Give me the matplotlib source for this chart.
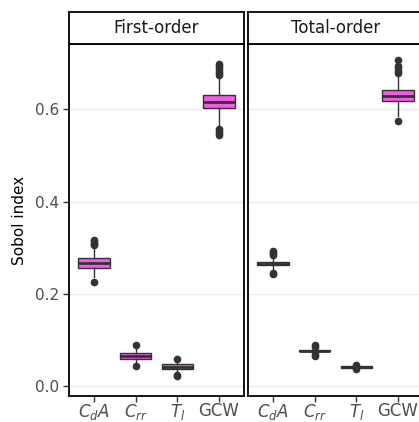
import matplotlib
matplotlib.use("Agg")
import matplotlib.pyplot as plt

# Categories and per-panel box summaries (Sobol indices)
categories = [r"$C_dA$", r"$C_{rr}$", r"$T_l$", "GCW"]
panels = ["First-order", "Total-order"]

first_q1 = [0.256, 0.059, 0.036, 0.604]
first_med = [0.266, 0.065, 0.041, 0.617]
first_q3 = [0.277, 0.071, 0.047, 0.632]
first_lo = [0.236, 0.048, 0.027, 0.566]
first_hi = [0.300, 0.083, 0.054, 0.668]
first_fliers = [
    [0.225, 0.305, 0.308, 0.311, 0.314, 0.316],
    [0.043, 0.088],
    [0.022, 0.024, 0.058],
    [0.545, 0.549, 0.553, 0.557, 0.674, 0.679, 0.684, 0.689, 0.694, 0.699],
]

total_q1 = [0.262, 0.075, 0.039, 0.619]
total_med = [0.265, 0.077, 0.041, 0.630]
total_q3 = [0.268, 0.079, 0.043, 0.642]
total_lo = [0.252, 0.070, 0.035, 0.585]
total_hi = [0.278, 0.084, 0.046, 0.673]
total_fliers = [
    [0.242, 0.246, 0.285, 0.289, 0.293],
    [0.066, 0.069, 0.085, 0.088],
    [0.036, 0.045],
    [0.574, 0.679, 0.684, 0.689, 0.694, 0.708],
]

y_ticks = [0.0, 0.2, 0.4, 0.6]
y_tick_labels = ["0.0", "0.2", "0.4", "0.6"]

FILL = "#F45AE8"
EDGE = "#333333"
TEXT = "#4D4D4D"

W, H = 419, 422
fig = plt.figure(figsize=(W / 100, H / 100), dpi=100)

panel_bottom = 1 - 396 / H
panel_height = (396 - 44) / H
panel_width = 175 / W
lefts = [69 / W, 248 / W]


def stats_for(q1, med, q3, lo, hi, fl):
    out = []
    for i in range(len(q1)):
        out.append(dict(med=med[i], q1=q1[i], q3=q3[i],
                        whislo=lo[i], whishi=hi[i], fliers=fl[i]))
    return out


all_stats = [
    stats_for(first_q1, first_med, first_q3, first_lo, first_hi, first_fliers),
    stats_for(total_q1, total_med, total_q3, total_lo, total_hi, total_fliers),
]

for k, (left, title, st) in enumerate(zip(lefts, panels, all_stats)):
    ax = fig.add_axes([left, panel_bottom, panel_width, panel_height])
    ax.set_facecolor("white")
    for yt in y_ticks:
        ax.axhline(yt, color="#EBEBEB", lw=1.0, zorder=0)
    ax.bxp(st, positions=range(1, len(categories) + 1), widths=0.75,
           patch_artist=True, showfliers=True,
           boxprops=dict(facecolor=FILL, edgecolor=EDGE, linewidth=1.0),
           medianprops=dict(color=EDGE, linewidth=2.0),
           whiskerprops=dict(color=EDGE, linewidth=1.0),
           capprops=dict(linewidth=0),
           flierprops=dict(marker="o", markerfacecolor=EDGE,
                           markeredgecolor=EDGE, markersize=4.5),
           zorder=3)
    ax.set_xlim(0.4, 4.6)
    ax.set_ylim(-0.0217, 0.742)
    ax.set_xticks(range(1, len(categories) + 1))
    ax.set_xticklabels(categories, fontsize=12, color=TEXT)
    ax.tick_params(axis="both", direction="out", length=4, width=1,
                   color=EDGE, pad=3)
    ax.tick_params(axis="x", pad=0)
    if k == 0:
        ax.set_yticks(y_ticks)
        ax.set_yticklabels(y_tick_labels, fontsize=11, color=TEXT)
        ax.set_ylabel("Sobol index", fontsize=11, color="black", labelpad=6)
    else:
        ax.set_yticks(y_ticks)
        ax.tick_params(axis="y", left=False, labelleft=False)
    for s in ax.spines.values():
        s.set_color("black")
        s.set_linewidth(1.3)

    # facet strip
    sax = fig.add_axes([left, 1 - 44 / H, panel_width, 32 / H])
    sax.set_facecolor("white")
    sax.set_xticks([])
    sax.set_yticks([])
    for s in sax.spines.values():
        s.set_color("black")
        s.set_linewidth(1.3)
    sax.text(0.5, 0.5, title, ha="center", va="center", fontsize=12,
             color="#1A1A1A", transform=sax.transAxes)

fig.savefig("out.png", dpi=100, facecolor="white")
